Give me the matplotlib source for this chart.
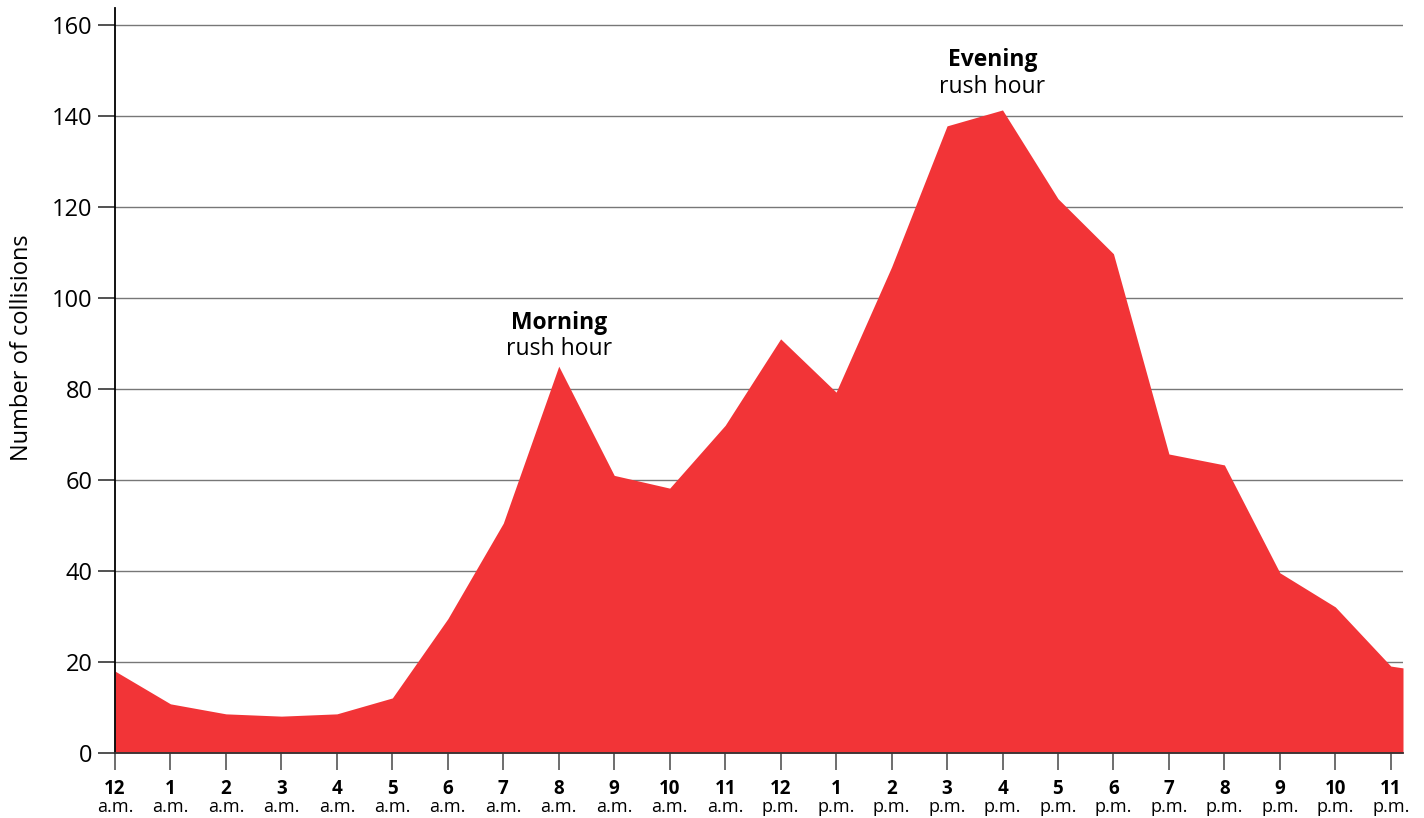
import numpy as np
import matplotlib
matplotlib.use('Agg')
from matplotlib import pyplot as plt

# collisions per hour of day
hours = list(range(24))
hour_labels = ['12', '1', '2', '3', '4', '5', '6', '7', '8', '9', '10', '11',
               '12', '1', '2', '3', '4', '5', '6', '7', '8', '9', '10', '11']
ampm = ['a.m.'] * 12 + ['p.m.'] * 12
collisions = [18.0, 10.8, 8.6, 8.1, 8.6, 12.1, 29.5, 50.5, 85.0, 61.0, 58.2, 72.0,
              91.0, 79.3, 106.8, 137.8, 141.3, 121.8, 109.7, 65.7, 63.3, 39.6, 32.1, 19.1]
# the area runs a little past 11 p.m. to the right edge
edge_hour = 23.22
edge_value = 18.7

plt.rcParams['font.family'] = ['Open Sans', 'DejaVu Sans']

fig = plt.figure(figsize=(14.24, 8.18), dpi=100)
ax = fig.add_axes([115 / 1424, 65 / 818, (1403 - 115) / 1424, (753 - 8) / 818])

x = np.array(hours + [edge_hour])
y = np.array(collisions + [edge_value])
ax.fill_between(x, 0, y, color='#f23437', linewidth=0, zorder=2)

ax.set_xlim(0, edge_hour)
ax.set_ylim(0, 163.7)

ax.set_yticks(range(0, 161, 20))
ax.tick_params(axis='y', length=12, width=1.2, color='#333333', labelsize=17, pad=4)
for v in range(20, 161, 20):
    ax.axhline(v, color='#777777', linewidth=1, zorder=1)

ax.set_xticks(hours)
ax.set_xticklabels([])
ax.tick_params(axis='x', length=12, width=1.2, color='#555555')
for h, lab, ap in zip(hours, hour_labels, ampm):
    ax.text(h, -0.035, lab, transform=ax.get_xaxis_transform(), ha='center', va='top',
            fontsize=13.5, fontweight='bold')
    ax.text(h, -0.061, ap, transform=ax.get_xaxis_transform(), ha='center', va='top',
            fontsize=13)

for s in ['top', 'right']:
    ax.spines[s].set_visible(False)
ax.spines['left'].set_linewidth(1.3)
ax.spines['bottom'].set_linewidth(1.3)
ax.spines['bottom'].set_color('#333333')

ax.set_ylabel('Number of collisions', fontsize=17)
ax.yaxis.set_label_coords(-0.063, 0.544)

ax.text(8, 94.5, 'Morning', ha='center', va='center', fontsize=16.5, fontweight='bold')
ax.text(8, 88.8, 'rush hour', ha='center', va='center', fontsize=16.5)
ax.text(15.82, 152.2, 'Evening', ha='center', va='center', fontsize=16.5, fontweight='bold')
ax.text(15.82, 146.4, 'rush hour', ha='center', va='center', fontsize=16.5)

plt.savefig('out.png', dpi=100)
